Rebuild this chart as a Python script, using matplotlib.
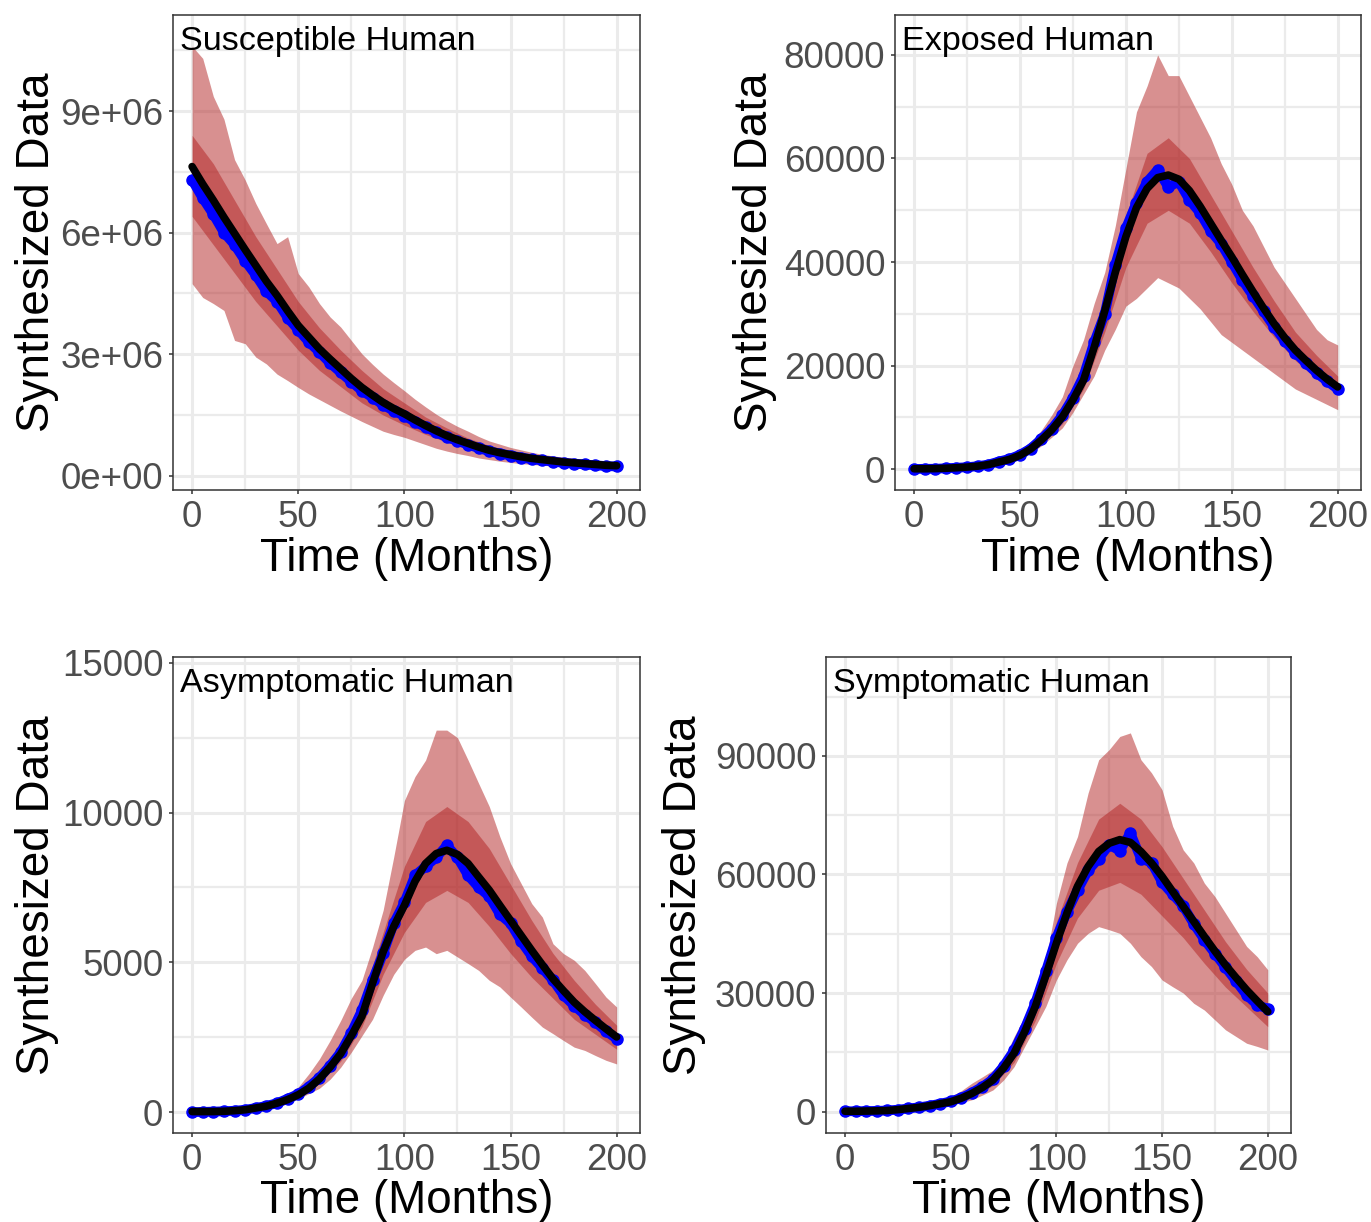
import matplotlib
matplotlib.use("Agg")
import matplotlib.pyplot as plt
import numpy as np

plt.rcParams["font.family"] = ["Liberation Sans", "DejaVu Sans"]

# ---- data ----
# month grid used for every series
months = list(range(0, 201, 5))
months_inner = list(range(0, 201, 10))

# Susceptible Human (units of 1e6)
sus_fit = [7.63, 7.2, 6.8, 6.38, 5.98, 5.58, 5.19, 4.8, 4.45, 4.07, 3.71, 3.42, 3.13, 2.88,
           2.64, 2.4, 2.18, 1.99, 1.81, 1.66, 1.53, 1.38, 1.24, 1.11, 0.99, 0.89, 0.80, 0.71,
           0.63, 0.57, 0.52, 0.47, 0.43, 0.40, 0.37, 0.34, 0.32, 0.30, 0.28, 0.26, 0.25]
sus_obs = [7.3, 6.85, 6.45, 6.0, 5.7, 5.3, 4.95, 4.55, 4.3, 3.9, 3.6, 3.3, 3.05, 2.78,
           2.55, 2.32, 2.1, 1.93, 1.75, 1.6, 1.48, 1.33, 1.2, 1.07, 0.95, 0.86, 0.77, 0.68,
           0.61, 0.55, 0.50, 0.45, 0.41, 0.38, 0.35, 0.32, 0.30, 0.28, 0.26, 0.24, 0.23]
sus_hi = [10.6, 10.3, 9.36, 8.8, 7.8, 7.3, 6.72, 6.22, 5.73, 5.9, 4.99, 4.66, 4.25, 3.92,
          3.67, 3.34, 3.01, 2.75, 2.51, 2.3, 2.1, 1.89, 1.7, 1.52, 1.36, 1.22, 1.1, 0.97,
          0.86, 0.78, 0.7, 0.64, 0.58, 0.53, 0.49, 0.46, 0.43, 0.4, 0.37, 0.35, 0.33]
sus_lo = [4.74, 4.4, 4.25, 4.08, 3.34, 3.26, 2.93, 2.76, 2.51, 2.35, 2.18, 2.02, 1.88, 1.74,
          1.6, 1.47, 1.34, 1.22, 1.1, 1.02, 0.95, 0.86, 0.77, 0.68, 0.61, 0.55, 0.5, 0.44,
          0.4, 0.36, 0.33, 0.3, 0.28, 0.26, 0.24, 0.22, 0.21, 0.2, 0.18, 0.17, 0.16]
sus_in_hi = [8.4, 7.7, 6.8, 5.9, 5.1, 4.3, 3.65, 3.1, 2.6, 2.15, 1.8, 1.45, 1.18, 0.93,
             0.75, 0.6, 0.5, 0.42, 0.36, 0.31, 0.28]
sus_in_lo = [6.4, 5.7, 5.0, 4.3, 3.7, 3.1, 2.6, 2.2, 1.8, 1.5, 1.25, 1.02, 0.83, 0.68,
             0.55, 0.45, 0.38, 0.33, 0.29, 0.26, 0.23]

# Exposed Human (units of 1e3)
exp_fit = [0.1, 0.1, 0.13, 0.2, 0.3, 0.42, 0.6, 0.9, 1.4, 1.9, 2.7, 3.9, 5.6, 7.6, 10.1,
           13.4, 17.2, 23.5, 30.5, 38, 44.9, 50.5, 54.2, 56.3, 56.8, 56, 53.8, 50.8, 47.5,
           44.2, 41, 37.6, 34.3, 31.1, 28.1, 25.4, 23, 21, 19.1, 17.4, 15.9]
exp_obs = [0.05, 0.1, 0.1, 0.2, 0.3, 0.4, 0.6, 0.9, 1.5, 2.0, 2.8, 4.0, 5.8, 7.8, 10.4,
           13.8, 18.0, 24.5, 30.0, 39.5, 46.5, 51.5, 55.5, 57.8, 54.5, 55.5, 52.0, 49.5,
           46.0, 43.5, 40.0, 36.5, 33.5, 30.5, 27.5, 24.8, 22.5, 20.5, 18.6, 17.0, 15.5]
exp_hi = [0.15, 0.2, 0.25, 0.35, 0.45, 0.6, 0.8, 1.2, 1.7, 2.6, 3.6, 5.2, 7.5, 10.5, 14,
          20, 25, 32, 38, 47, 58, 69, 74, 80, 76, 76, 72, 68, 64, 59, 55, 50, 47, 43, 39,
          36, 33, 30, 27, 25, 24]
exp_lo = [0.0, 0.02, 0.05, 0.1, 0.15, 0.25, 0.35, 0.6, 1.1, 1.6, 2.2, 3.2, 4.5, 6.2, 8.0,
          11, 14.5, 18, 23, 27, 31.5, 33, 35, 37, 36, 35, 33, 31, 28.5, 26, 24.5, 23, 21.5,
          20, 18.5, 17, 15.5, 14.5, 13.5, 12.5, 11.5]
exp_in_hi = [0.12, 0.15, 0.35, 0.7, 1.6, 3.0, 6.3, 11.5, 20, 33, 49, 61, 64, 60, 53, 46,
             39, 32.5, 26.5, 22, 18]
exp_in_lo = [0.08, 0.1, 0.25, 0.5, 1.2, 2.4, 4.9, 8.8, 15.5, 26.5, 39, 47.5, 50, 47.5, 42,
             36, 30.5, 25.5, 21, 17.5, 14.5]

# Asymptomatic Human (units of 1e3)
asy_fit = [0.02, 0.02, 0.02, 0.03, 0.05, 0.08, 0.14, 0.2, 0.3, 0.42, 0.58, 0.8, 1.11, 1.5,
           1.95, 2.55, 3.2, 4.3, 5.35, 6.2, 6.9, 7.7, 8.3, 8.63, 8.74, 8.6, 8.3, 7.85, 7.41,
           6.9, 6.4, 5.9, 5.4, 4.92, 4.45, 4.05, 3.67, 3.35, 3.06, 2.78, 2.51]
asy_obs = [0.0, 0.01, 0.02, 0.03, 0.05, 0.08, 0.14, 0.21, 0.3, 0.45, 0.6, 0.85, 1.15, 1.55,
           2.0, 2.65, 3.4, 4.4, 5.3, 6.3, 7.0, 7.9, 8.2, 8.5, 8.9, 8.5, 7.9, 7.5, 7.2, 6.6,
           6.3, 5.7, 5.2, 4.8, 4.4, 3.9, 3.55, 3.25, 3.0, 2.7, 2.45]
asy_hi = [0.03, 0.04, 0.05, 0.07, 0.1, 0.15, 0.22, 0.32, 0.45, 0.62, 0.84, 1.28, 1.78, 2.39,
          3.06, 3.8, 4.4, 5.5, 6.74, 8.52, 10.4, 11.2, 11.75, 12.75, 12.75, 12.5, 11.75,
          10.97, 10.2, 9.19, 8.3, 7.63, 6.96, 6.51, 5.62, 5.29, 5.07, 4.73, 4.29, 3.84, 3.51]
asy_lo = [0.0, 0.0, 0.01, 0.02, 0.03, 0.04, 0.08, 0.12, 0.2, 0.3, 0.45, 0.62, 0.8, 1.1, 1.5,
          2.0, 2.55, 3.1, 3.9, 4.6, 5.1, 5.4, 5.51, 5.29, 5.4, 5.18, 4.96, 4.73, 4.4, 4.18,
          3.84, 3.51, 3.17, 2.84, 2.62, 2.39, 2.17, 2.06, 1.89, 1.73, 1.61]
asy_in_hi = [0.03, 0.03, 0.06, 0.17, 0.36, 0.68, 1.3, 2.25, 3.8, 6.0, 8.2, 9.7, 10.2, 9.7,
             8.8, 7.6, 6.4, 5.3, 4.4, 3.6, 2.9]
asy_in_lo = [0.01, 0.01, 0.04, 0.11, 0.25, 0.48, 0.95, 1.7, 2.85, 4.6, 6.0, 7.0, 7.4, 7.0,
             6.2, 5.3, 4.5, 3.8, 3.1, 2.6, 2.1]

# Symptomatic Human (units of 1e3)
sym_fit = [0.1, 0.1, 0.15, 0.2, 0.3, 0.5, 0.8, 1.1, 1.5, 2.0, 2.5, 3.4, 4.6, 6.1, 8.0, 11,
           14.8, 20.2, 26.6, 34.4, 42.6, 50.2, 57.0, 62.0, 65.8, 67.9, 68.8, 68.1, 65.8,
           62.9, 59.5, 55.7, 51.9, 48.1, 44.3, 40.6, 37.1, 33.9, 30.8, 28.0, 25.3]
sym_obs = [0.1, 0.1, 0.15, 0.2, 0.3, 0.5, 0.8, 1.1, 1.5, 2.0, 2.6, 3.5, 4.8, 6.3, 8.2, 11.5,
           15.5, 21, 27.5, 35.5, 44, 50.5, 56, 61, 64, 67.5, 66, 70.5, 64, 63, 58, 55, 52,
           47.5, 43.5, 40, 36.5, 33, 29.5, 27, 26]
sym_hi = [0.15, 0.15, 0.2, 0.3, 0.4, 0.7, 1.1, 1.6, 2.2, 2.9, 3.8, 5.3, 7.2, 8.8, 10.5, 13.1,
          19.0, 24.1, 30.8, 38.4, 52.7, 62.9, 69.6, 80.6, 89.0, 91.6, 94.9, 95.8, 89.0,
          85.7, 81.4, 72.2, 66.2, 62.9, 57.8, 54.4, 50.2, 46.0, 41.8, 39.2, 35.9]
sym_lo = [0.05, 0.05, 0.1, 0.15, 0.2, 0.3, 0.5, 0.7, 1.0, 1.4, 1.8, 2.3, 3.0, 4.2, 5.5, 8.0,
          11.4, 16.5, 21.5, 26.6, 33.3, 38.4, 42.6, 45.1, 46.8, 46.0, 45.1, 42.6, 39.2,
          36.7, 33.3, 31.6, 30.0, 27.4, 25.7, 23.2, 20.7, 19.0, 17.3, 16.5, 15.6]
sym_in_hi = [0.12, 0.17, 0.35, 0.95, 1.8, 3.0, 5.5, 9.5, 17.5, 30.5, 48, 63, 74, 78, 74, 67,
             59, 51, 43, 36, 30]
sym_in_lo = [0.08, 0.12, 0.25, 0.65, 1.25, 2.1, 3.8, 6.6, 12.5, 23, 37.5, 49, 56, 58, 55,
             49.5, 44, 37.5, 31.5, 26.5, 21.5]

panel_titles = ["Susceptible Human", "Exposed Human", "Asymptomatic Human", "Symptomatic Human"]
yticks_sus = [0, 3e6, 6e6, 9e6]
ytick_labels_sus = ["0e+00", "3e+06", "6e+06", "9e+06"]
yticks_exp = [0, 20000, 40000, 60000, 80000]
yticks_asy = [0, 5000, 10000, 15000]
yticks_sym = [0, 30000, 60000, 90000]
xticks = [0, 50, 100, 150, 200]

W, H = 1371, 1222
fig = plt.figure(figsize=(W / 100, H / 100), dpi=100)


def px_axes(left, top, right, bottom):
    return fig.add_axes([left / W, 1 - bottom / H, (right - left) / W, (bottom - top) / H])


panels = [
    dict(box=(173, 15, 640, 490), unit=1e6, fit=sus_fit, obs=sus_obs, hi=sus_hi, lo=sus_lo,
         ihi=sus_in_hi, ilo=sus_in_lo, ylim=(-0.35e6, 11.37e6), yticks=yticks_sus,
         ylabels=ytick_labels_sus, ylab_x=37, xlab_y=559),
    dict(box=(895, 15, 1361, 490), unit=1e3, fit=exp_fit, obs=exp_obs, hi=exp_hi, lo=exp_lo,
         ihi=exp_in_hi, ilo=exp_in_lo, ylim=(-4000, 87700), yticks=yticks_exp,
         ylabels=[str(v) for v in yticks_exp], ylab_x=755, xlab_y=559),
    dict(box=(173, 657, 640, 1133), unit=1e3, fit=asy_fit, obs=asy_obs, hi=asy_hi, lo=asy_lo,
         ihi=asy_in_hi, ilo=asy_in_lo, ylim=(-695, 15190), yticks=yticks_asy,
         ylabels=[str(v) for v in yticks_asy], ylab_x=37, xlab_y=1201),
    dict(box=(826, 657, 1291, 1133), unit=1e3, fit=sym_fit, obs=sym_obs, hi=sym_hi, lo=sym_lo,
         ihi=sym_in_hi, ilo=sym_in_lo, ylim=(-5400, 115000), yticks=yticks_sym,
         ylabels=[str(v) for v in yticks_sym], ylab_x=684, xlab_y=1201),
]

band_col = "firebrick"
grid_col = "#EBEBEB"
tick_col = "#4D4D4D"
frame_col = "#333333"

for p, title in zip(panels, panel_titles):
    left, top, right, bottom = p["box"]
    ax = px_axes(left, top, right, bottom)
    u = p["unit"]
    t = np.array(months)
    ti = np.array(months_inner)

    # credible bands, then observed data (blue) and fitted curve (black)
    ax.fill_between(t, np.array(p["lo"]) * u, np.array(p["hi"]) * u,
                    color=band_col, alpha=0.5, linewidth=0, zorder=2)
    ax.fill_between(ti, np.array(p["ilo"]) * u, np.array(p["ihi"]) * u,
                    color=band_col, alpha=0.5, linewidth=0, zorder=3)
    ax.plot(t, np.array(p["obs"]) * u, color="#0000FF", linewidth=7,
            solid_capstyle="round", zorder=4)
    ax.plot(t, np.array(p["obs"]) * u, "o", color="#0000FF", markersize=8, zorder=4)
    ax.plot(t, np.array(p["fit"]) * u, color="black", linewidth=5.5,
            solid_capstyle="round", zorder=5)

    ax.set_xlim(-9, 211)
    ax.set_ylim(*p["ylim"])
    ax.set_xticks(xticks)
    ax.set_xticklabels([str(v) for v in xticks])
    ax.set_yticks(p["yticks"])
    ax.set_yticklabels(p["ylabels"])
    yt = p["yticks"]
    step = yt[1] - yt[0]
    minor_y = [v + step / 2 for v in yt]
    minor_y = [v for v in minor_y if v < p["ylim"][1]]
    ax.set_xticks([25, 75, 125, 175], minor=True)
    ax.set_yticks(minor_y, minor=True)
    ax.grid(which="major", color=grid_col, linewidth=2.2, zorder=0)
    ax.grid(which="minor", color=grid_col, linewidth=1.6, zorder=0)
    ax.set_axisbelow(True)
    ax.tick_params(which="major", length=3, width=1.1, color=frame_col, pad=4,
                   labelsize=26.5, labelcolor=tick_col)
    ax.tick_params(which="minor", length=0)
    for s in ax.spines.values():
        s.set_color(frame_col)
        s.set_linewidth(1.1)

    ax.text(0.015, 0.926, title, transform=ax.transAxes, ha="left", va="baseline",
            fontsize=24.6, color="black", zorder=6)

    fig.text(((left + right) / 2) / W, 1 - p["xlab_y"] / H, "Time (Months)",
             ha="center", va="center", fontsize=33)
    fig.text(p["ylab_x"] / W, 1 - ((top + bottom) / 2) / H, "Synthesized Data",
             ha="center", va="center", rotation=90, fontsize=33)

fig.savefig("out.png", dpi=100)
